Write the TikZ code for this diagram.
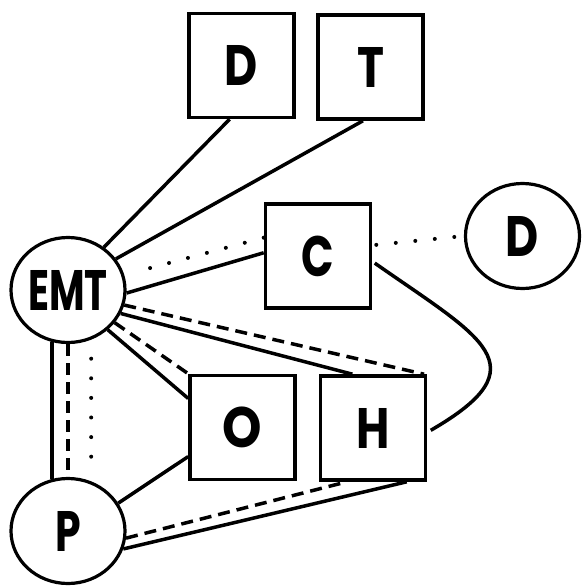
\documentclass[tikz,border=0pt]{standalone}
\usepackage{fontspec}
\usepackage{graphicx}
\setmainfont{Poppins}
\usetikzlibrary{shapes.geometric,calc}
\newcommand{\lbltext}[2][0.8]{\makebox[0pt]{\scalebox{#1}[1]{#2}}}
\begin{document}
\begin{tikzpicture}[x=1pt,y=1pt,
  lbl/.style={font=\fontsize{57}{57}\selectfont\bfseries},
  box/.style={draw, line width=3.6pt, minimum width=105pt, minimum height=104pt, inner sep=0pt, lbl},
  circ/.style={draw, ellipse, line width=3.2pt, minimum width=114pt, minimum height=105pt, inner sep=0pt, lbl},
  link/.style={line width=3.5pt},
  dashes/.style={line width=3.5pt, dash pattern=on 12pt off 7pt},
  dots/.style={line width=4pt, line cap=round, dash pattern=on 0pt off 19.6pt}]
\useasboundingbox (0,0) rectangle (581,-586);
\node[box] (Db) at (241.5,-65.5) {\lbltext{D}};
\node[box] (T) at (370.5,-67) {\lbltext{T}};
\node[box] (C) at (318,-256) {\lbltext[0.75]{C}};
\node[box] (O) at (242.5,-427.5) {\lbltext[0.88]{O}};
\node[box] (H) at (373,-428) {\lbltext{H}};
\node[circ] (Dc) at (522.5,-236) {\lbltext{D}};
\node[circ] (EMT) at (68,-290) {\lbltext[0.68]{EMT}};
\node[circ] (P) at (68,-531) {\lbltext[0.72]{P}};
% EMT links
\draw[link] (EMT.50) -- ($(Db.south west)!0.39!(Db.south east)$);
\draw[link] (EMT.33) -- ($(T.south west)!0.43!(T.south east)$);
\draw[dots, shorten >=15pt] ($(C.north west)!0.33!(C.south west)$) -- (EMT.15);
\draw[link] (EMT.-3) -- ($(C.north west)!0.47!(C.south west)$);
\draw[dashes] (EMT.-15) -- ($(H.north west)!0.97!(H.north east)$);
\draw[link] (EMT.-24) -- ($(H.north west)!0.31!(H.north east)$);
\draw[dashes] (EMT.-35) -- (O.north west);
\draw[link] (EMT.-45) -- ($(O.north west)!0.23!(O.south west)$);
\draw[link] (EMT.-107.4) -- (P.107.4);
\draw[dashes] (EMT.south) -- (P.north);
\draw[dots, shorten <=19pt, shorten >=10pt] (EMT.-65.8) -- (P.65.8);
% P links
\draw[link] (P.29) -- ($(O.north west)!0.77!(O.south west)$);
\draw[dashes] (P.-7) -- ($(H.south west)!0.26!(H.south east)$);
\draw[link] (P.-18) -- ($(H.south west)!0.81!(H.south east)$);
% C links
\draw[dots, shorten <=4pt] ($(C.north east)!0.4!(C.south east)$) -- (Dc.west);
\draw[link, shorten <=3pt, shorten >=4pt] ($(C.north east)!0.55!(C.south east)$) to[out=-35,in=30,looseness=1.9] ($(H.north east)!0.54!(H.south east)$);
\end{tikzpicture}
\end{document}
